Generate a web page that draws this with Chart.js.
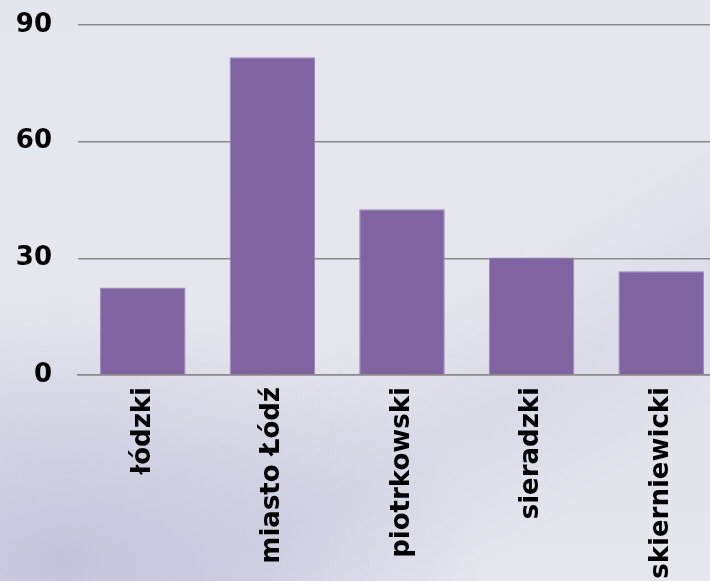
<!DOCTYPE html>
<html>
<head>
<meta charset="utf-8">
<script src="https://cdn.jsdelivr.net/npm/chart.js@4/dist/chart.umd.min.js"></script>
<style>
  html, body {
    margin: 0;
    padding: 0;
    width: 710px;
    height: 581px;
    overflow: hidden;
  }
  body {
    background:
      radial-gradient(ellipse 420px 260px at 60px 560px, rgba(185,185,215,0.75), rgba(185,185,215,0) 100%),
      linear-gradient(150deg, rgba(255,255,255,0) 55%, rgba(200,200,222,0.35) 70%, rgba(255,255,255,0) 85%),
      linear-gradient(180deg, #e4e6ee 0%, #e6e7ee 50%, #e3e3ec 75%, #e6e6ef 100%);
  }
  #wrap {
    position: absolute;
    left: 0;
    top: 0;
  }
</style>
</head>
<body>
<div id="wrap"><canvas id="chart" width="726" height="625"></canvas></div>
<script>
// powiaty - wartości
const categories = ['łódzki', 'miasto Łódź', 'piotrkowski', 'sieradzki', 'skierniewicki'];
const values = [22.5, 81.7, 42.6, 30.2, 26.7];
const yTicks = [0, 30, 60, 90];

const barColor = '#8064a2';
const gridColor = '#8a8a8a';
const labelFont = { family: 'DejaVu Sans', size: 26, weight: 'bold' };

new Chart(document.getElementById('chart'), {
    type: 'bar',
    data: {
        labels: categories,
        datasets: [{
            data: values,
            backgroundColor: barColor,
            borderColor: '#9a86b8',
            borderWidth: 1,
            categoryPercentage: 1,
            barPercentage: 0.66
        }]
    },
    options: {
        responsive: false,
        animation: false,
        layout: {
            padding: { left: 16, top: 25, right: 0, bottom: 0 }
        },
        plugins: {
            legend: { display: false },
            tooltip: { enabled: false }
        },
        scales: {
            x: {
                grid: { display: false, drawTicks: false },
                border: { display: true, color: gridColor, width: 1.5 },
                ticks: {
                    color: '#000',
                    font: labelFont,
                    minRotation: 90,
                    maxRotation: 90,
                    padding: 12
                },
                afterFit: axis => {
                    axis.height = 250;
                    axis.paddingLeft = 0;
                    axis.paddingRight = 0;
                }
            },
            y: {
                min: yTicks[0],
                max: yTicks[yTicks.length - 1],
                afterBuildTicks: axis => {
                    axis.ticks = yTicks.map(v => ({ value: v }));
                },
                grid: { color: gridColor, lineWidth: 1.5, drawTicks: false },
                border: { display: false },
                ticks: {
                    color: '#000',
                    font: labelFont,
                    padding: 26
                },
                afterFit: axis => {
                    axis.width = 62;
                    axis.paddingTop = 0;
                    axis.paddingBottom = 0;
                }
            }
        }
    }
});
</script>
</body>
</html>
